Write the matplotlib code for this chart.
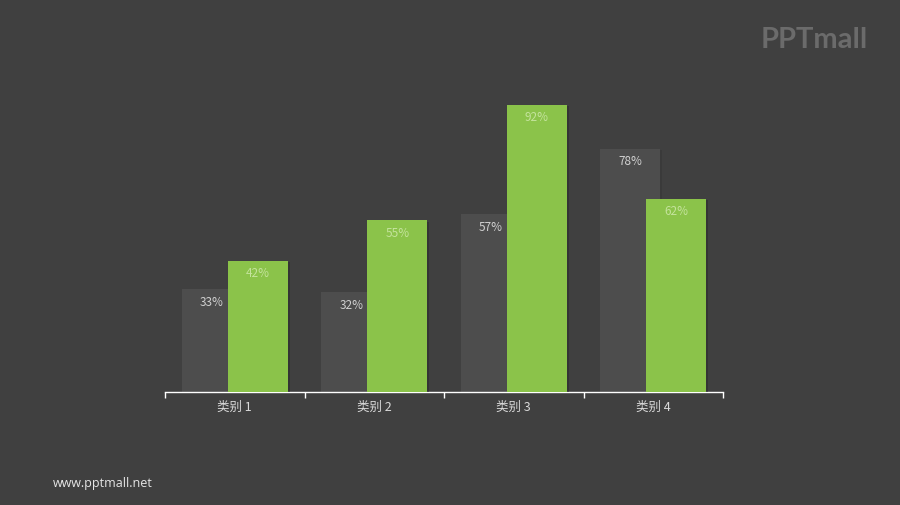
import matplotlib
matplotlib.use("Agg")
import matplotlib.pyplot as plt
import matplotlib.patheffects as pe
import numpy as np

plt.rcParams['font.family'] = ['Noto Sans CJK SC', 'DejaVu Sans']

categories = ["类别 1", "类别 2", "类别 3", "类别 4"]
series_gray = [33, 32, 57, 78]
series_green = [42, 55, 92, 62]

BG = "#404040"
GRAY = "#4d4d4d"
GREEN = "#8bc34a"

fig = plt.figure(figsize=(9, 5.06), dpi=100, facecolor=BG)
ax = fig.add_axes([165/900, (506-393)/506, (723-165)/900, 312/506])
ax.set_facecolor(BG)

x = np.arange(len(categories))
w = 0.43
off = 0.165
b1 = ax.bar(x - off, series_gray, width=w, color=GRAY, zorder=2)
b2 = ax.bar(x + off, series_green, width=w, color=GREEN, zorder=3)
for p in b1:
    p.set_path_effects([pe.SimplePatchShadow(offset=(1, -1), shadow_rgbFace="#333333", alpha=0.4), pe.Normal()])
for p in b2:
    p.set_path_effects([pe.SimplePatchShadow(offset=(1.5, -1), shadow_rgbFace="#2a2a2a", alpha=0.5), pe.Normal()])

for xi, v in zip(x - off, series_gray):
    ax.annotate(f"{v}%", (xi, v), xytext=(0, -12), textcoords="offset pixels",
                ha="center", va="center", color="#d0d0d0", fontsize=8.5, zorder=5)
for xi, v in zip(x + off, series_green):
    ax.annotate(f"{v}%", (xi, v), xytext=(0, -12), textcoords="offset pixels",
                ha="center", va="center", color="#c4e39c", fontsize=8.5, zorder=5)

ax.set_xlim(-0.5, len(categories) - 0.5)
ax.set_ylim(0, 100)
for s in ["top", "right", "left"]:
    ax.spines[s].set_visible(False)
ax.spines["bottom"].set_color("white")
ax.spines["bottom"].set_linewidth(1.0)
ax.set_yticks([])
ax.set_xticks(np.arange(-0.5, len(categories)), labels=[""] * (len(categories) + 1))
ax.tick_params(axis="x", which="major", color="white", length=4, width=1.0, direction="out")
ax.set_xticks(x, labels=categories, minor=True)
ax.tick_params(axis="x", which="minor", length=0, pad=6, labelcolor="#d9d9d9", labelsize=9)

fig.text(53/900, 1 - 484/506, "www.pptmall.net", color="#e6e6e6", fontsize=9,
         ha="left", va="center", family=["Open Sans", "DejaVu Sans"])
fig.text(868/900, 1 - 40/506, "PPTmall", color="#6b6b6b", fontsize=21, fontweight="bold",
         ha="right", va="center", family=["Lato", "DejaVu Sans"])

fig.savefig("out.png", dpi=100, facecolor=BG)
